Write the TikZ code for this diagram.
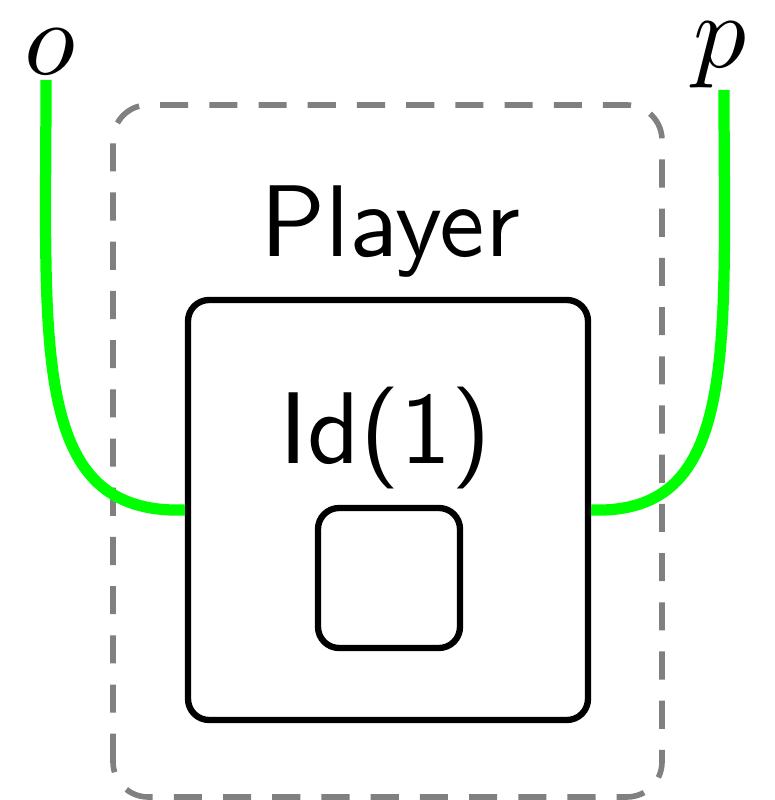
\documentclass[tikz,border=0pt]{standalone}
\usepackage{amsmath}
\usetikzlibrary{positioning,calc}
\tikzset{
  wire/.style={line width=3.2pt, draw=green},
  framebox/.style={draw, line width=1.8pt, rounded corners=6pt},
  lbl/.style={font=\sffamily, scale=2.9}
}
\begin{document}
\begin{tikzpicture}
  \useasboundingbox (0,0) rectangle (7.75,8);

  % Dashed outer frame
  \draw[gray, line width=1.6pt, dash pattern=on 8pt off 6pt, rounded corners=10pt]
    (1.13,0.03) rectangle (6.62,6.95);

  % Boxes
  \node[framebox, minimum width=4cm, minimum height=4.2cm] (player) at (3.88,2.9) {};
  \node[framebox, minimum width=1.42cm, minimum height=1.4cm] (unit) at (3.89,2.22) {};

  % Labels
  \node[lbl] (plabel) at (3.9,5.68) {Player};
  \node[lbl] (idlabel) at (3.85,3.62) {Id(1)};
  \node[scale=3] (o) at (0.5,7.48) {$o$};
  \node[scale=3] (p) at (7.2,7.45) {$p$};

  % Wires
  \coordinate (otop) at (0.46,7.2);
  \coordinate (ptop) at (7.24,7.1);
  \draw[wire] (otop) .. controls (0.46,4.5) and (0.3,2.85) .. (player.west);
  \draw[wire] (ptop) .. controls (7.24,4.5) and (7.4,2.85) .. (player.east);
\end{tikzpicture}
\end{document}
